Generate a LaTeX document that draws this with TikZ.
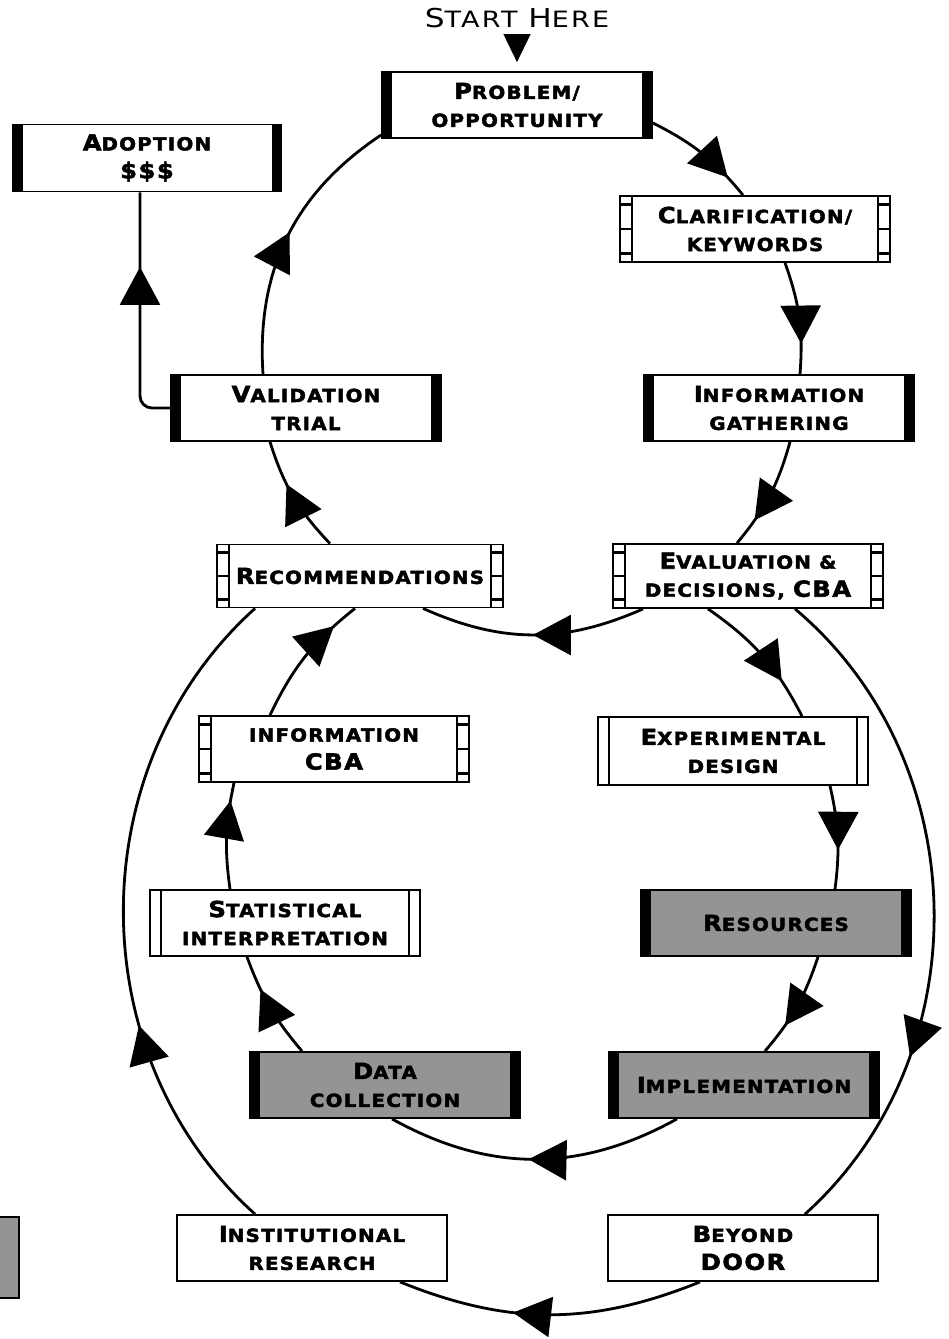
\documentclass[tikz,border=0pt]{standalone}
\usepackage{fontspec}
\usepackage{tikz}
\usetikzlibrary{calc,positioning,arrows.meta,decorations.markings}

\newfontfamily\boxfont[FakeStretch=1.1,LetterSpace=7,FakeBold=2.5]{DejaVu Sans Bold}
\newfontfamily\startfont[FakeStretch=1.2,LetterSpace=10]{DejaVu Sans}
\newcommand{\firstcap}[1]{{\fontsize{22}{28}\selectfont #1}}
\definecolor{boxgray}{gray}{0.58}

\tikzset{
  box/.style={draw, line width=1.8pt, fill=white, minimum width=270pt, minimum height=66pt,
    inner sep=0pt, align=center, font=\boxfont\fontsize{18}{28}\selectfont},
  barbox/.style={box, path picture={
    \fill[black] (path picture bounding box.north west) rectangle ([xshift=10pt]path picture bounding box.south west);
    \fill[black] (path picture bounding box.north east) rectangle ([xshift=-10pt]path picture bounding box.south east);}},
  graybox/.style={barbox, fill=boxgray},
  linebox/.style={box, path picture={
    \draw[line width=1.2pt] ([xshift=11pt]path picture bounding box.north west) -- ([xshift=11pt]path picture bounding box.south west);
    \draw[line width=1.2pt] ([xshift=-11pt]path picture bounding box.north east) -- ([xshift=-11pt]path picture bounding box.south east);}},
  ladderbox/.style={box, path picture={
    \draw[line width=1.2pt] ([xshift=12pt]path picture bounding box.north west) -- ([xshift=12pt]path picture bounding box.south west);
    \draw[line width=1.2pt] ([xshift=-12pt]path picture bounding box.north east) -- ([xshift=-12pt]path picture bounding box.south east);
    \foreach \f in {0.13,0.5,0.87} {
      \draw[line width=2.6pt] ($(path picture bounding box.north west)!\f!(path picture bounding box.south west)$) -- ++(12pt,0pt);
      \draw[line width=2.6pt] ($(path picture bounding box.north east)!\f!(path picture bounding box.south east)$) -- ++(-12pt,0pt);
    }}},
  flow/.style={postaction={decorate}, decoration={markings,
    mark=at position #1 with {\arrow{Triangle[length=38pt,width=40pt]}}}},
  flow/.default=0.5,
  link/.style={line width=2.8pt}
}

\begin{document}
\begin{tikzpicture}[x=1pt,y=-1pt]
\useasboundingbox (0,0) rectangle (949,1339);

\node[font=\startfont\fontsize{22.5}{28}\selectfont, inner sep=0pt] (start) at (517,18)
  {{\fontsize{26}{28}\selectfont S}TART {\fontsize{26}{28}\selectfont H}ERE};

\node[barbox] (prob) at (517,105) {\firstcap{P}ROBLEM/\\OPPORTUNITY};
\node[barbox, minimum width=269pt, minimum height=67pt] (adopt) at (147,158) {\firstcap{A}DOPTION\\\firstcap{\$\$\$}};
\node[ladderbox] (clar) at (755,229) {\firstcap{C}LARIFICATION/\\KEYWORDS};
\node[barbox] (valid) at (306,408) {\firstcap{V}ALIDATION\\TRIAL};
\node[barbox] (gather) at (779,408) {\firstcap{I}NFORMATION\\GATHERING};
\node[ladderbox, minimum width=286pt, minimum height=63pt] (recom) at (360,576) {\firstcap{R}ECOMMENDATIONS};
\node[ladderbox, minimum height=64pt] (evalu) at (748,576) {\firstcap{E}VALUATION \&\\DECISIONS, \firstcap{CBA}};
\node[ladderbox] (infocba) at (334,749) {INFORMATION\\\firstcap{CBA}};
\node[linebox, minimum height=68pt] (expdes) at (733,751) {\firstcap{E}XPERIMENTAL\\DESIGN};
\node[linebox] (stat) at (285,923) {\firstcap{S}TATISTICAL\\INTERPRETATION};
\node[graybox] (resrc) at (776,923) {\firstcap{R}ESOURCES};
\node[graybox] (datacol) at (385,1085) {\firstcap{D}ATA\\COLLECTION};
\node[graybox] (implem) at (744,1085) {\firstcap{I}MPLEMENTATION};
\node[box] (instres) at (312,1248) {\firstcap{I}NSTITUTIONAL\\RESEARCH};
\node[box] (beyond) at (743,1248) {\firstcap{B}EYOND\\\firstcap{DOOR}};

\draw[line width=1.8pt, fill=boxgray] (-2,1217) rectangle (19,1298);

\draw[-{Triangle[length=28pt,width=27pt]}, line width=1pt, shorten <=8pt, shorten >=9pt] (start) -- (prob);

% upper loop
\draw[link, flow=0.8] ([yshift=-18pt]prob.east) to[bend left=12] ([xshift=-12pt]clar.north);
\draw[link, flow=0.73] ([xshift=30pt]clar.south) to[bend left=12] ([xshift=21pt]gather.north);
\draw[link, flow=0.75] ([xshift=11pt]gather.south) to[bend left=12] ([xshift=-11pt]evalu.north);
\draw[link, flow=0.5] ([xshift=-105pt]evalu.south) to[bend left=24] ([xshift=63pt]recom.south);
\draw[link, flow=0.62] ([xshift=-30pt]recom.north) to[bend left=13] ([xshift=-36pt]valid.south);
\draw[link, flow=0.52] ([xshift=-43pt]valid.north) to[bend left=30] ([yshift=-30pt]prob.west);
\draw[link, rounded corners=12pt, flow=0.69] (valid.west) -| ([xshift=-7pt]adopt.south);

% lower loop
\draw[link, flow=0.72] ([xshift=-40pt]evalu.south) to[bend left=14] ([xshift=69pt]expdes.north);
\draw[link, flow=0.62] ([xshift=97pt]expdes.south) to[bend left=10] ([xshift=59pt]resrc.north);
\draw[link, flow=0.7] ([xshift=42pt]resrc.south) to[bend left=11] ([xshift=21pt]implem.north);
\draw[link, flow=0.52] ([xshift=-67pt]implem.south) to[bend left=29] ([xshift=7pt]datacol.south);
\draw[link, flow=0.68] ([xshift=-83pt]datacol.north) to[bend left=10] ([xshift=-38pt]stat.south);
\draw[link, flow=0.83] ([xshift=-55pt]stat.north) to[bend left=10] ([xshift=-100pt]infocba.south);
\draw[link, flow=0.8] ([xshift=-64pt]infocba.north) to[bend left=13] ([xshift=-5pt]recom.south);

% outer loop
\draw[link, flow=0.72] ([xshift=47pt]evalu.south) to[bend left=49] ([xshift=62pt]beyond.north);
\draw[link, flow=0.62] ([xshift=-43pt]beyond.south) to[bend left=22] ([xshift=88pt]instres.south);
\draw[link, flow=0.33] ([xshift=-57pt]instres.north) to[bend left=48] ([xshift=-105pt]recom.south);

\end{tikzpicture}
\end{document}
